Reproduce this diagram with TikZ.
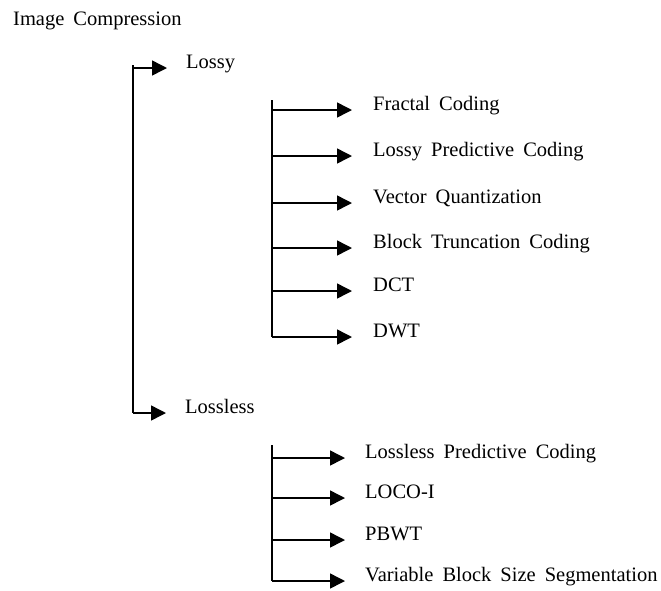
\documentclass[tikz,border=0pt]{standalone}
\usepackage{fontspec}
\setmainfont{Liberation Serif}
\usetikzlibrary{arrows.meta}
\tikzset{
  lbl/.style={anchor=base west,inner sep=0pt,font=\fontsize{20.5}{24}\selectfont,
    execute at begin node={\spaceskip=9pt\relax}},
  trunk/.style={line width=1.6pt},
  branch/.style={line width=1.5pt,-{Triangle[length=15pt,width=15pt]}}
}
\begin{document}
\begin{tikzpicture}[x=1pt,y=-1pt]
  \useasboundingbox (0,0) rectangle (661,590);
  \node[lbl] (root) at (13,25) {Image Compression};
  \node[lbl] (lossy) at (186,68) {Lossy};
  \node[lbl] (lossless) at (185,413) {Lossless};
  \node[lbl] (fractal) at (373,110) {Fractal Coding};
  \node[lbl] (lpc) at (373,156) {Lossy Predictive Coding};
  \node[lbl] (vq) at (373,203) {Vector Quantization};
  \node[lbl] (btc) at (373,248) {Block Truncation Coding};
  \node[lbl] (dct) at (373,291) {DCT};
  \node[lbl] (dwt) at (373,337) {DWT};
  \node[lbl] (llpc) at (365,458) {Lossless Predictive Coding};
  \node[lbl] (loco) at (365,498) {LOCO-I};
  \node[lbl] (pbwt) at (365,540) {PBWT};
  \node[lbl] (vbss) at (365,581) {Variable Block Size Segmentation};
  \coordinate (rootbar) at (133,65);
  \coordinate (lossybar) at (272,100);
  \coordinate (losslessbar) at (272,445);
  \draw[trunk] (rootbar) -- (rootbar |- lossless.base);
  \draw[branch] (rootbar |- lossy.base) -- ([xshift=-19pt]lossy.base west);
  \draw[branch] (rootbar |- lossless.base) -- ([xshift=-19pt]lossless.base west);
  \draw[trunk] (lossybar) -- (lossybar |- dwt.base);
  \draw[branch] (lossybar |- fractal.base) -- ([xshift=-21pt]fractal.base west);
  \draw[branch] (lossybar |- lpc.base) -- ([xshift=-21pt]lpc.base west);
  \draw[branch] (lossybar |- vq.base) -- ([xshift=-21pt]vq.base west);
  \draw[branch] (lossybar |- btc.base) -- ([xshift=-21pt]btc.base west);
  \draw[branch] (lossybar |- dct.base) -- ([xshift=-21pt]dct.base west);
  \draw[branch] (lossybar |- dwt.base) -- ([xshift=-21pt]dwt.base west);
  \draw[trunk] (losslessbar) -- (losslessbar |- vbss.base);
  \draw[branch] (losslessbar |- llpc.base) -- ([xshift=-20pt]llpc.base west);
  \draw[branch] (losslessbar |- loco.base) -- ([xshift=-20pt]loco.base west);
  \draw[branch] (losslessbar |- pbwt.base) -- ([xshift=-20pt]pbwt.base west);
  \draw[branch] (losslessbar |- vbss.base) -- ([xshift=-20pt]vbss.base west);
\end{tikzpicture}
\end{document}
